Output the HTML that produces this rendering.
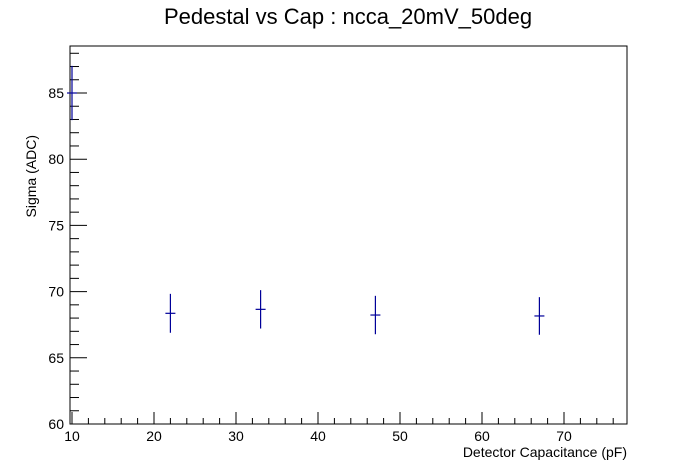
<!DOCTYPE html>
<html><head><meta charset="utf-8"><style>body{margin:0;background:#fff}svg{display:block}</style></head>
<body>
<svg id="c" width="696" height="472" xmlns="http://www.w3.org/2000/svg" font-family="Liberation Sans, sans-serif">
<rect width="696" height="472" fill="#fff"/>
<text x="348" y="24" font-size="22" text-anchor="middle">Pedestal vs Cap : ncca_20mV_50deg</text>
<rect x="70" y="46" width="557" height="378" fill="none" stroke="#000" stroke-width="1"/>
<text x="627" y="457" font-size="14" text-anchor="end">Detector Capacitance (pF)</text>
<text transform="translate(36,135) rotate(-90)" font-size="14" text-anchor="end">Sigma (ADC)</text>
<g id="ax"></g><g id="pts"></g>
</svg>
<script>
const xs=[10,22,33,47,67];
const ys=[85,68.36,68.66,68.23,68.16];
const errs=[2.05,1.47,1.45,1.45,1.42];
const xTicks=[10,20,30,40,50,60,70];
const yTicks=[60,65,70,75,80,85];
const NS="http://www.w3.org/2000/svg";
const X=v=>72+(v-10)*8.2, Y=v=>424-(v-60)*13.24;
const ax=document.getElementById('ax'),pts=document.getElementById('pts');
function mk(tag,a,p){const e=document.createElementNS(NS,tag);for(const k in a)e.setAttribute(k,a[k]);p.appendChild(e);return e;}
for(let v=10;v<=77;v+=2){const major=v%10===0;const l=mk('line',{x1:X(v),x2:X(v),y1:424,y2:424-(major?12:6),stroke:'#000'},ax);

}
for(let v=60;v<=88;v+=1){const major=v%5===0;const l=mk('line',{x1:70,x2:70+(major?17:9),y1:Y(v),y2:Y(v),stroke:'#000'},ax);

}
xTicks.forEach(v=>{const t=mk('text',{x:X(v),y:441,'font-size':14,'text-anchor':'middle'},ax);t.textContent=v;

});
yTicks.forEach(v=>{const t=mk('text',{x:64,y:Y(v)+5,'font-size':14,'text-anchor':'end'},ax);t.textContent=v;

});
xs.forEach((x,i)=>{const g=mk('g',{stroke:'#000099','stroke-width':1.2},pts);


mk('line',{x1:X(x),x2:X(x),y1:Y(ys[i]+errs[i]),y2:Y(ys[i]-errs[i])},g);
mk('line',{x1:X(x)-5,x2:X(x)+5,y1:Y(ys[i]),y2:Y(ys[i])},g);});
</script>
</body></html>
